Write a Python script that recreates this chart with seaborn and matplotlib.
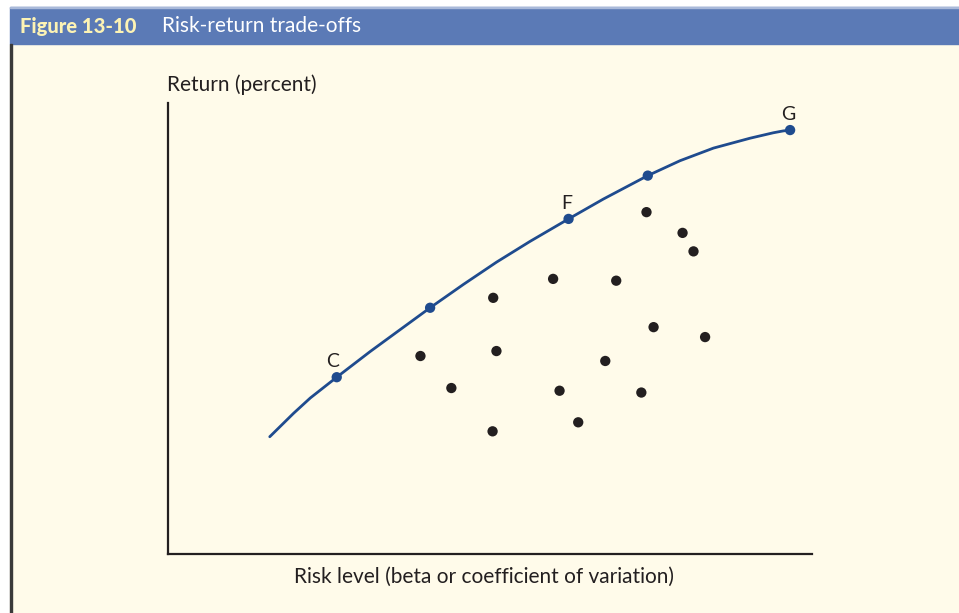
import numpy as np
import pandas as pd
import seaborn as sns
import matplotlib.pyplot as plt
from matplotlib.patches import Rectangle

# ── Data (arbitrary risk / return units) ─────────────────────────────────────
curve_risk   = [1.58, 1.95, 2.21, 2.62, 3.14, 3.60, 4.07, 4.59, 5.10, 5.62,
                6.22, 6.76, 7.45, 7.95, 8.47, 9.04, 9.25, 9.40, 9.55, 9.66]
curve_return = [2.60, 3.12, 3.46, 3.92, 4.49, 4.97, 5.46, 5.98, 6.47, 6.93,
                7.43, 7.87, 8.39, 8.72, 9.00, 9.22, 9.29, 9.34, 9.38, 9.40]

frontier_risk   = [2.62, 4.07, 6.22, 7.45, 9.66]
frontier_return = [3.92, 5.46, 7.43, 8.39, 9.40]
frontier_labels = ["C", "", "F", "", "G"]

port_risk   = [7.43, 7.99, 8.16, 5.98, 6.96, 5.05, 7.54, 8.34,
               3.92, 5.10, 6.79, 4.40, 6.08, 7.35, 6.37, 5.04]
port_return = [7.58, 7.12, 6.71, 6.10, 6.06, 5.68, 5.03, 4.81,
               4.39, 4.50, 4.28, 3.68, 3.62, 3.58, 2.92, 2.72]

curve_df = pd.DataFrame({"risk": curve_risk, "ret": curve_return})
front_df = pd.DataFrame({"risk": frontier_risk, "ret": frontier_return})
port_df  = pd.DataFrame({"risk": port_risk, "ret": port_return})

# ── Style ────────────────────────────────────────────────────────────────────
sns.set_style("white")
plt.rcParams["font.family"] = ["Lato", "DejaVu Sans"]

BLUE  = "#1f4b8e"
CREAM = "#fffbea"
BAND  = "#5b7ab6"
INK   = "#231f20"

fig = plt.figure(figsize=(9.59, 6.13), dpi=100, facecolor="white")

# panel background, header band and left rule
fig.patches.append(Rectangle((10/959, 0), 1 - 10/959, 1 - 44/613,
                             transform=fig.transFigure, color=CREAM, zorder=-3))
fig.patches.append(Rectangle((10/959, 1 - 44/613), 1 - 10/959, 37/613,
                             transform=fig.transFigure, color=BAND, zorder=-3))
fig.patches.append(Rectangle((10/959, 1 - 8/613), 1 - 10/959, 1.5/613,
                             transform=fig.transFigure, color="#a9b9d9", zorder=-2))
fig.patches.append(Rectangle((10/959, 0), 1.8/959, 1 - 44/613,
                             transform=fig.transFigure, color="#3a3a3a", zorder=-2))

fig.text(20/959, 1 - 26/613, "Figure 13-10", color="#fdf3b4", fontsize=14.5,
         fontweight="black", va="center", ha="left")
fig.text(162/959, 1 - 26/613, "Risk-return trade-offs", color="white",
         fontsize=15, va="center", ha="left")

# ── Plot ─────────────────────────────────────────────────────────────────────
ax = fig.add_axes([168/959, 1 - 554/613, 644/959, 451/613])
ax.set_zorder(5)
ax.set_facecolor("none")

sns.lineplot(data=curve_df, x="risk", y="ret", sort=False, color=BLUE,
             linewidth=2.0, ax=ax)
sns.scatterplot(data=front_df, x="risk", y="ret", color=BLUE, s=55,
                edgecolor="none", ax=ax, zorder=3)
sns.scatterplot(data=port_df, x="risk", y="ret", color=INK, s=55,
                edgecolor="none", ax=ax, zorder=3)

for xr, yr, lab in zip(frontier_risk, frontier_return, frontier_labels):
    if lab:
        ax.annotate(lab, (xr, yr), xytext=(-3 if lab == "C" else -1, 5),
                    textcoords="offset points", ha="center", va="bottom",
                    fontsize=14, color=INK)

ax.set_xlim(0, 10)
ax.set_ylim(0, 10)
ax.set_xticks([]); ax.set_yticks([])
ax.set_xlabel(""); ax.set_ylabel("")
for side in ["top", "right"]:
    ax.spines[side].set_visible(False)
for side in ["left", "bottom"]:
    ax.spines[side].set_color(INK)
    ax.spines[side].set_linewidth(1.6)

fig.text(167/959, 1 - 85/613, "Return (percent)", fontsize=15, color=INK,
         ha="left", va="center")
fig.text(484/959, 1 - 577/613, "Risk level (beta or coefficient of variation)",
         fontsize=15, color=INK, ha="center", va="center")

fig.savefig("out.png", dpi=100, facecolor=fig.get_facecolor())
